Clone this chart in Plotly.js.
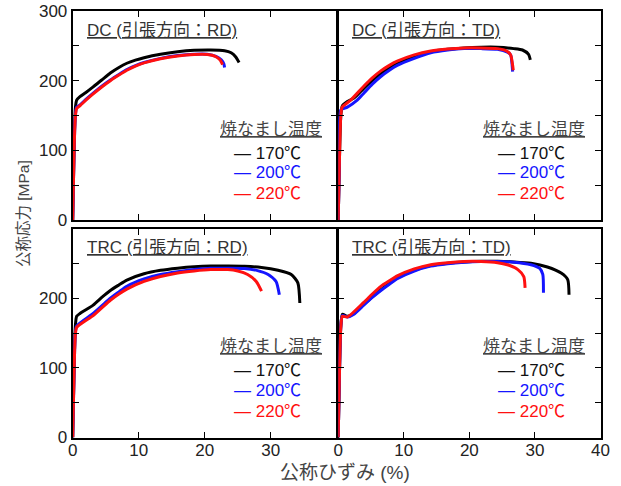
<!DOCTYPE html>
<html>
<head>
<meta charset="utf-8">
<script src="https://cdn.plot.ly/plotly-3.0.1.min.js"></script>
<style>html,body{margin:0;padding:0;background:#fff;}#chart{width:621px;height:486px;}</style>
</head>
<body>
<div id="chart"></div>
<script>
// ---- data (strain %, stress MPa) ----
const panelTitles = ["DC (引張方向：RD)", "DC (引張方向：TD)", "TRC (引張方向：RD)", "TRC (引張方向：TD)"];
const seriesNames = ["170℃", "200℃", "220℃"];
const legendTitle = "焼なまし温度";
const xTitle = "公称ひずみ (%)";
const yTitle = "公称応力 [MPa]";
const xTickVals = [0, 10, 20, 30, 40];
const yTickVals = [0, 50, 100, 150, 200, 250, 300];

// DC, RD
const strain_DC_RD_170 = [0, 0.2, 0.4, 0.6, 1.1, 2, 3.1, 4.4, 5.7, 7, 8.2, 9.5, 10.8, 13.3, 15.9, 18.4, 20.9, 23.0, 24.0, 24.7, 25.2];
const stress_DC_RD_170 = [0, 100, 160, 172, 177, 183, 191, 201, 211, 219, 225, 229.5, 233, 238, 241.5, 243.5, 244, 243, 240, 234, 226];
const strain_DC_RD_200 = [0, 0.2, 0.4, 0.6, 1.1, 2, 3.1, 4.4, 5.7, 7, 8.2, 9.5, 10.8, 13.3, 15.9, 18.4, 20.4, 21.7, 22.5, 22.9, 23.0];
const stress_DC_RD_200 = [0, 95, 150, 162, 165, 173, 182, 192, 201, 209, 216, 221.5, 226, 232, 236, 238, 238, 235, 230, 224, 219];
const strain_DC_RD_220 = [0, 0.2, 0.4, 0.6, 1.1, 2, 3.1, 4.4, 5.7, 7, 8.2, 9.5, 10.8, 13.3, 15.9, 18.4, 20.4, 21.6, 22.3, 22.7];
const stress_DC_RD_220 = [0, 95, 148, 160, 164, 172, 181, 191, 200, 208, 215, 221, 225.5, 231.5, 235.5, 237.5, 237.5, 235, 230, 223];

// DC, TD
const strain_DC_TD_170 = [0, 0.2, 0.4, 0.64, 1.4, 2.4, 3.9, 5.2, 6.5, 7.8, 9.0, 11.6, 14.1, 16.7, 19.2, 21.8, 24.3, 26.8, 28.1, 29.0, 29.3];
const stress_DC_TD_170 = [0, 90, 150, 164, 170, 175, 189, 200, 210, 218, 225, 234, 241.5, 245, 247, 248, 248, 246, 244, 238, 230];
const strain_DC_TD_200 = [0, 0.2, 0.4, 1.4, 2.9, 3.9, 5.2, 6.5, 7.8, 9.0, 11.6, 14.1, 16.7, 19.2, 21.8, 24.3, 25.8, 26.3, 26.5, 26.6];
const stress_DC_TD_200 = [0, 90, 158, 162, 172, 182, 195, 206, 215, 222, 232, 240, 244, 246, 246, 245, 241, 237, 225, 213];
const strain_DC_TD_220 = [0, 0.2, 0.4, 0.6, 1.9, 3.9, 5.2, 6.5, 7.8, 9.0, 11.6, 14.1, 16.7, 19.2, 21.8, 24.3, 25.6, 26.3, 26.6, 26.7];
const stress_DC_TD_220 = [0, 90, 150, 162, 172, 192, 204, 214, 222, 228, 237, 242.5, 245.5, 247, 247, 246, 243, 237, 222, 215];

// TRC, RD
const strain_TRC_RD_170 = [0, 0.2, 0.4, 0.6, 1.1, 3.1, 4.4, 5.7, 7, 8.2, 10.8, 13.3, 15.9, 18.4, 20.9, 23.5, 26.0, 28.6, 31.1, 33.1, 34.1, 34.4];
const stress_TRC_RD_170 = [0, 95, 160, 174, 178, 190, 201, 211, 219, 226, 235, 240, 243, 245, 246, 246, 245.7, 244, 240, 234, 222, 193];
const strain_TRC_RD_200 = [0, 0.2, 0.4, 0.6, 3.1, 4.4, 5.7, 7, 8.2, 10.8, 13.3, 15.9, 18.4, 20.9, 23.5, 26.0, 28.0, 29.6, 30.8, 31.3];
const stress_TRC_RD_200 = [0, 90, 150, 160, 178, 189, 200, 209, 217, 227.6, 234, 238, 241, 243, 243, 242.6, 239.6, 234, 224, 205];
const strain_TRC_RD_220 = [0, 0.2, 0.4, 0.6, 3.1, 4.4, 5.7, 7, 8.2, 10.8, 13.3, 15.9, 18.4, 20.9, 23.5, 25.0, 26.5, 27.8, 28.6];
const stress_TRC_RD_220 = [0, 90, 148, 158, 175, 186, 197, 206, 213, 224, 231, 236, 239, 241, 241, 239, 234, 224, 210];

// TRC, TD
const strain_TRC_TD_170 = [0, 0.2, 0.4, 0.64, 1.4, 2.4, 3.9, 5.2, 6.5, 7.8, 9.0, 11.6, 14.1, 16.7, 19.2, 21.8, 24.3, 26.8, 29.4, 31.9, 34.0, 35.0, 35.2];
const stress_TRC_TD_170 = [0, 95, 160, 177, 174, 178, 191, 202, 212, 221, 229, 240, 246.7, 250, 252, 253, 253, 252, 250, 244.7, 236, 226.7, 205];
const strain_TRC_TD_200 = [0, 0.2, 0.4, 0.64, 1.4, 2.4, 3.9, 5.2, 6.5, 7.8, 9.0, 11.6, 14.1, 16.7, 19.2, 21.8, 24.3, 26.8, 29.4, 30.7, 31.2, 31.3];
const stress_TRC_TD_200 = [0, 95, 160, 175, 173, 177, 190, 201, 211, 220, 228, 239, 246, 249.5, 251.5, 252.5, 252.5, 251.7, 248, 243, 234, 207.6];
const strain_TRC_TD_220 = [0, 0.2, 0.4, 0.64, 1.4, 3.9, 5.2, 6.5, 7.8, 9.0, 11.6, 14.1, 16.7, 19.2, 21.8, 24.3, 25.8, 27.4, 28.3, 28.5];
const stress_TRC_TD_220 = [0, 95, 158, 174, 173, 194, 206, 217, 225, 232, 242, 248, 251, 252.6, 252.6, 251, 248, 241, 231, 214.7];

const seriesColors = ["#000000", "#1515ff", "#ff1010"];

const panels = [
  [[strain_DC_RD_170, stress_DC_RD_170], [strain_DC_RD_200, stress_DC_RD_200], [strain_DC_RD_220, stress_DC_RD_220]],
  [[strain_DC_TD_170, stress_DC_TD_170], [strain_DC_TD_200, stress_DC_TD_200], [strain_DC_TD_220, stress_DC_TD_220]],
  [[strain_TRC_RD_170, stress_TRC_RD_170], [strain_TRC_RD_200, stress_TRC_RD_200], [strain_TRC_RD_220, stress_TRC_RD_220]],
  [[strain_TRC_TD_170, stress_TRC_TD_170], [strain_TRC_TD_200, stress_TRC_TD_200], [strain_TRC_TD_220, stress_TRC_TD_220]]
];

// ---- layout ----
const W = 621, H = 486;
const FONT = "Liberation Sans, Arial, Noto Sans CJK JP, sans-serif";
const xDomains = [[72.7 / W, 336.8 / W], [338.2 / W, 600.5 / W]];
const yDomains = [[(H - 220) / H, (H - 11) / H], [(H - 437.5) / H, (H - 228.5) / H]];

const traces = [];
const layout = {
  width: W, height: H,
  margin: {l: 0, r: 0, t: 0, b: 0},
  paper_bgcolor: "#fff", plot_bgcolor: "#fff",
  showlegend: false,
  font: {family: FONT, size: 17, color: "#222"},
  annotations: []
};

panels.forEach((series, p) => {
  const idx = p + 1;
  const xa = idx === 1 ? "x" : "x" + idx;
  const ya = idx === 1 ? "y" : "y" + idx;
  const col = p % 2, row = Math.floor(p / 2);
  series.forEach((s, k) => {
    traces.push({
      x: s[0], y: s[1], xaxis: xa, yaxis: ya,
      type: "scatter", mode: "lines",
      line: {color: seriesColors[k], width: 3, shape: "spline", smoothing: 0.6},
      name: seriesNames[k], hoverinfo: "skip"
    });
  });
  const xTickText = xTickVals.map(v => (col === 0 && v === 40) ? "" : String(v));
  const yTickText = yTickVals.map(v => (v % 100 !== 0) ? "" : (row === 1 && v === 300) ? "" : String(v));
  const common = {
    showline: true, linecolor: "#000", linewidth: 2, mirror: "ticks",
    ticks: "inside", ticklen: 6, tickwidth: 1, tickcolor: "#000",
    showgrid: false, zeroline: false, fixedrange: true,
    tickfont: {family: FONT, size: 17, color: "#222"}
  };
  layout["xaxis" + (idx === 1 ? "" : idx)] = Object.assign({}, common, {
    domain: xDomains[col], range: [0, 40], anchor: ya,
    tickmode: "array", tickvals: xTickVals, ticktext: xTickText,
    showticklabels: row === 1, ticklabelstandoff: -4
  });
  layout["yaxis" + (idx === 1 ? "" : idx)] = Object.assign({}, common, {
    domain: yDomains[row], range: [0, 300], anchor: xa,
    tickmode: "array", tickvals: yTickVals, ticktext: yTickText,
    showticklabels: col === 0
  });
  // panel title
  layout.annotations.push({
    xref: xa + " domain", yref: ya + " domain", x: 0.046, y: 0.909,
    xanchor: "left", yanchor: "middle", showarrow: false,
    text: "<u>" + panelTitles[p] + "</u>", font: {family: FONT, size: 17, color: "#333"}
  });
  // legend title
  layout.annotations.push({
    xref: xa + " domain", yref: ya + " domain", x: 0.95, y: 0.435,
    xanchor: "right", yanchor: "middle", showarrow: false,
    text: "<u>" + legendTitle + "</u>", font: {family: FONT, size: 17, color: "#444"}
  });
  const ys = [0.32, 0.225, 0.125];
  seriesNames.forEach((nm, k) => {
    layout.annotations.push({
      xref: xa + " domain", yref: ya + " domain", x: 0.872, y: ys[k],
      xanchor: "right", yanchor: "middle", showarrow: false,
      text: "— " + nm, font: {family: FONT, size: 17, color: seriesColors[k] === "#000000" ? "#111" : seriesColors[k]}
    });
  });
});

// axis titles
layout.annotations.push({
  xref: "paper", yref: "paper", x: 345 / W, y: (H - 472) / H,
  xanchor: "center", yanchor: "middle", showarrow: false,
  text: xTitle, font: {family: FONT, size: 19, color: "#444"}
});
layout.annotations.push({
  xref: "paper", yref: "paper", x: 23 / W, y: (H - 214) / H,
  xanchor: "center", yanchor: "middle", showarrow: false, textangle: -90,
  text: yTitle, font: {family: FONT, size: 15.5, color: "#444"}
});

Plotly.newPlot("chart", traces, layout, {staticPlot: true, displayModeBar: false});
</script>
</body>
</html>
